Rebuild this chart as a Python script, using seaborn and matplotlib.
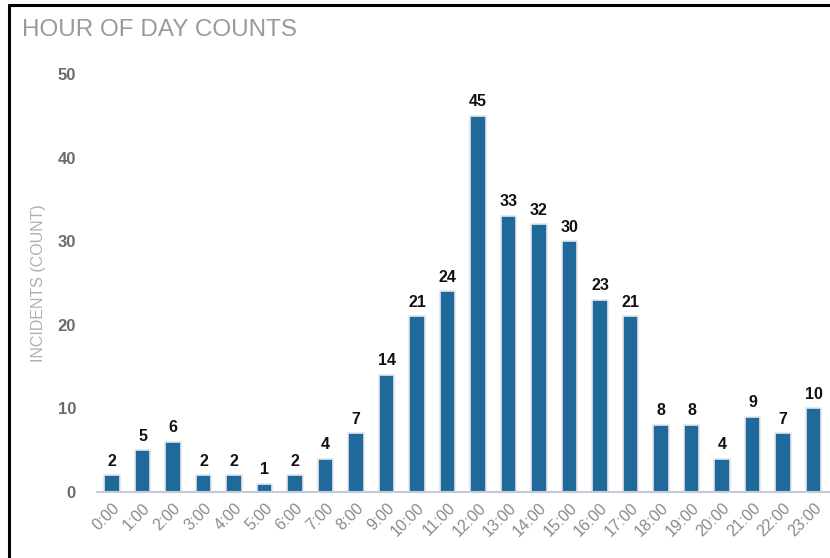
import matplotlib
matplotlib.use("Agg")
import matplotlib.pyplot as plt
import seaborn as sns
import pandas as pd
from matplotlib.lines import Line2D

hours = [f"{h}:00" for h in range(24)]
counts = [2, 5, 6, 2, 2, 1, 2, 4, 7, 14, 21, 24, 45, 33, 32, 30, 23, 21, 8, 8, 4, 9, 7, 10]
yticks = [0, 10, 20, 30, 40, 50]

sns.set_theme(style="white")
plt.rcParams['font.family'] = ['Liberation Sans', 'DejaVu Sans']

df = pd.DataFrame({"hour": hours, "count": counts})

fig = plt.figure(figsize=(8.3, 5.58), dpi=100)
ax = fig.add_axes([96.75 / 830, 66 / 558, 732 / 830, 418 / 558])

sns.barplot(data=df, x="hour", y="count", color="#1f6a9b", saturation=1,
            width=0.5, edgecolor="#e4e6ec", linewidth=1.2, ax=ax)

for i, v in enumerate(counts):
    ax.text(i, v + 0.8, str(v), ha="center", va="bottom", fontsize=11.5,
            fontweight="bold", color="#111111")

ax.set_xlim(-0.5, 23.5)
ax.set_ylim(0, 50)
ax.set_yticks(yticks)
ax.set_yticklabels([str(t) for t in yticks], fontsize=12, fontweight="bold", color="#6b6b6b")
ax.tick_params(axis="y", pad=15, length=0)
ax.set_xticks(range(24))
ax.set_xticklabels(hours, rotation=45, ha="right", rotation_mode="anchor",
                   fontsize=11.5, color="#8a8a8a")
ax.tick_params(axis="x", pad=6, length=0)
ax.set_xlabel("")
ax.set_ylabel("INCIDENTS (COUNT)", fontsize=11.5, color="#b0b0b0", labelpad=8)
for s in ["top", "right", "left"]:
    ax.spines[s].set_visible(False)
ax.spines["bottom"].set_color("#c5cadc")
ax.spines["bottom"].set_linewidth(1.5)
ax.grid(False)

fig.text(22 / 830, 1 - 30 / 558, "HOUR OF DAY COUNTS", fontsize=17.5, color="#9a9a9a",
         ha="left", va="center")

# panel border (left and top edges)
fig.add_artist(Line2D([8.5 / 830, 8.5 / 830], [0, 1 - 4.5 / 558], color="black", lw=2.2,
                      transform=fig.transFigure))
fig.add_artist(Line2D([8.5 / 830, 1], [1 - 4.5 / 558, 1 - 4.5 / 558], color="black", lw=2.2,
                      transform=fig.transFigure))

fig.savefig("out.png", dpi=100)
